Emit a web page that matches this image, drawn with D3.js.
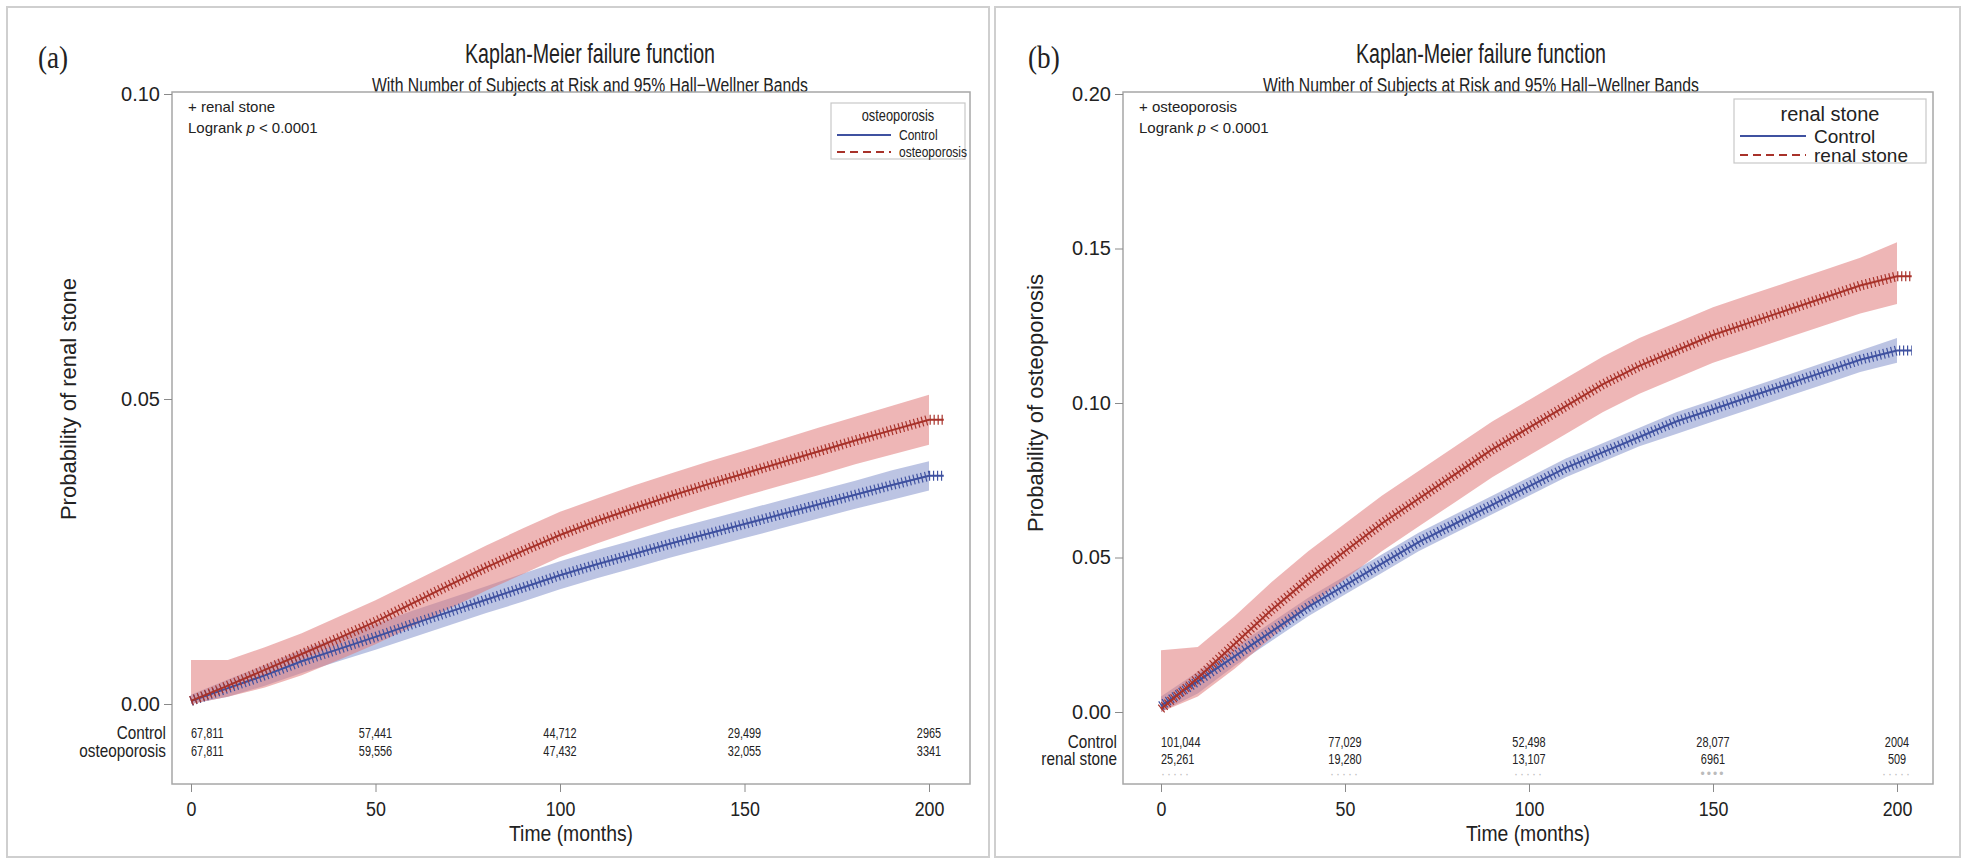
<!DOCTYPE html>
<html>
<head>
<meta charset="utf-8">
<script src="https://cdn.jsdelivr.net/npm/d3@7/dist/d3.min.js"></script>
<style>
body{margin:0;background:#fff;}
text{fill:#222;font-family:"Liberation Sans",Arial,sans-serif;}
</style>
</head>
<body>
<svg id="chart" width="1968" height="863"></svg>
<script>
const months = [0,10,20,30,40,50,60,70,80,90,100,110,120,130,140,150,160,170,180,190,200];
const lastCensor = 204;

// panel (a): probability of renal stone
const aControl = [0.0005,0.0026,0.0047,0.0070,0.0090,0.0110,0.0131,0.0151,0.0171,0.0191,0.0211,0.0229,0.0246,0.0263,0.0279,0.0295,0.0311,0.0327,0.0343,0.0359,0.0374];
const aControlLo = [0.0000,0.0012,0.0030,0.0051,0.0070,0.0089,0.0109,0.0129,0.0149,0.0168,0.0188,0.0206,0.0223,0.0240,0.0256,0.0272,0.0288,0.0304,0.0320,0.0335,0.0350];
const aControlHi = [0.0015,0.0040,0.0064,0.0089,0.0110,0.0131,0.0153,0.0173,0.0193,0.0214,0.0234,0.0252,0.0269,0.0286,0.0302,0.0318,0.0334,0.0350,0.0366,0.0383,0.0398];
const aCase = [0.0005,0.0030,0.0056,0.0082,0.0108,0.0135,0.0165,0.0195,0.0224,0.0251,0.0277,0.0300,0.0321,0.0341,0.0360,0.0378,0.0396,0.0414,0.0432,0.0449,0.0466];
const aCaseLo = [0.0000,0.0012,0.0027,0.0047,0.0072,0.0098,0.0127,0.0156,0.0186,0.0213,0.0241,0.0263,0.0284,0.0304,0.0323,0.0341,0.0358,0.0375,0.0393,0.0409,0.0425];
const aCaseHi = [0.0072,0.0072,0.0093,0.0116,0.0143,0.0170,0.0200,0.0230,0.0260,0.0288,0.0315,0.0337,0.0358,0.0378,0.0397,0.0415,0.0434,0.0453,0.0471,0.0489,0.0507];

// panel (b): probability of osteoporosis
const bControl = [0.002,0.010,0.018,0.026,0.034,0.041,0.048,0.055,0.061,0.067,0.073,0.079,0.084,0.089,0.094,0.098,0.102,0.106,0.110,0.114,0.117];
const bControlLo = [0.000,0.006,0.015,0.023,0.031,0.038,0.045,0.052,0.058,0.064,0.070,0.076,0.081,0.086,0.090,0.094,0.098,0.102,0.106,0.110,0.113];
const bControlHi = [0.005,0.013,0.021,0.029,0.037,0.044,0.051,0.058,0.064,0.070,0.076,0.082,0.087,0.092,0.097,0.101,0.105,0.109,0.113,0.117,0.121];
const bCase = [0.001,0.011,0.022,0.033,0.043,0.052,0.061,0.069,0.077,0.085,0.092,0.099,0.106,0.112,0.117,0.122,0.126,0.130,0.134,0.138,0.141];
const bCaseLo = [0.000,0.005,0.014,0.024,0.034,0.043,0.052,0.060,0.068,0.076,0.083,0.090,0.097,0.103,0.108,0.113,0.117,0.121,0.125,0.129,0.132];
const bCaseHi = [0.020,0.021,0.031,0.042,0.052,0.061,0.070,0.078,0.086,0.094,0.101,0.108,0.115,0.121,0.126,0.131,0.135,0.139,0.143,0.147,0.152];

// number at risk
const riskTimes = [0,50,100,150,200];
const aRiskControl = [67811,57441,44712,29499,2965];
const aRiskCase = [67811,59556,47432,32055,3341];
const bRiskControl = [101044,77029,52498,28077,2004];
const bRiskCase = [25261,19280,13107,6961,509];

const xTicks = [0,50,100,150,200];
const aYTicks = [0,0.05,0.10];
const bYTicks = [0,0.05,0.10,0.15,0.20];

const blue = '#3f51a0', red = '#a8322a';
const blueBand = '#8594cc', redBand = '#e07a7a';

const svg = d3.select('#chart');
const fmtRisk = n => n >= 10000 ? d3.format(',')(n) : String(n);

function series(vals, lo, hi){
	return months.map((m,i)=>({t:m, v:vals[i], lo:lo[i], hi:hi[i]}));
}

// text squeezed horizontally (the original uses condensed lettering)
function squeezed(g, x, y, size, sx, anchor, str){
	return g.append('text')
		.attr('transform',`translate(${x},${y}) scale(${sx},1)`)
		.attr('text-anchor',anchor)
		.style('font-size',size+'px')
		.text(str);
}

function drawPanel(p){
	const g = svg.append('g');

	// outer panel border
	g.append('rect')
		.attr('x',p.box[0]).attr('y',p.box[1])
		.attr('width',p.box[2]).attr('height',p.box[3])
		.style('fill','none').style('stroke','#cfcfcf').style('stroke-width',2);

	g.append('text')
		.attr('transform',`translate(${p.tag[0]},${p.tag[1]}) scale(0.85,1)`)
		.style('font-family','"Liberation Serif","DejaVu Serif",serif')
		.style('font-size','32px')
		.text(p.tagText);

	g.append('text')
		.attr('x',p.cx).attr('y',63)
		.attr('text-anchor','middle')
		.attr('textLength',250).attr('lengthAdjust','spacingAndGlyphs')
		.style('font-size','28px')
		.text('Kaplan-Meier failure function');
	g.append('text')
		.attr('x',p.cx).attr('y',92)
		.attr('text-anchor','middle')
		.attr('textLength',436).attr('lengthAdjust','spacingAndGlyphs')
		.style('font-size','20px')
		.text('With Number of Subjects at Risk and 95% Hall\u2212Wellner Bands');

	const x = d3.scaleLinear().domain([0,200]).range(p.xRange);
	const y = d3.scaleLinear().domain([0,p.yMax]).range(p.yRange);

	// frame
	g.append('rect')
		.attr('x',p.frame[0]).attr('y',p.frame[1])
		.attr('width',p.frame[2]-p.frame[0]).attr('height',p.frame[3]-p.frame[1])
		.style('fill','none').style('stroke','#a7a7a7').style('stroke-width',1.5);

	// y axis
	const yAxis = d3.axisLeft(y).tickValues(p.yTicks).tickFormat(d3.format('.2f')).tickSize(8).tickPadding(4);
	const ya = g.append('g')
		.attr('transform',`translate(${p.frame[0]},0)`)
		.call(yAxis);
	ya.select('.domain').remove();
	ya.selectAll('line').style('stroke','#8a8a8a');
	ya.selectAll('text').style('font-size','20px').style('fill','#222').style('font-family','"Liberation Sans",Arial,sans-serif');

	// x axis below frame
	const xAxis = d3.axisBottom(x).tickValues(xTicks).tickSize(8).tickPadding(9);
	const xa = g.append('g')
		.attr('transform',`translate(0,${p.frame[3]})`)
		.call(xAxis);
	xa.select('.domain').remove();
	xa.selectAll('line').style('stroke','#8a8a8a');
	xa.selectAll('text').style('font-size','21px').style('fill','#222').style('font-family','"Liberation Sans",Arial,sans-serif')
		.attr('transform','scale(0.85,1)');

	squeezed(g,(p.frame[0]+p.frame[2])/2,841,22,0.88,'middle','Time (months)');

	g.append('text')
		.attr('transform',`translate(${p.yLabelX},${(p.yRange[0]+p.yRange[1])/2}) rotate(-90)`)
		.attr('text-anchor','middle')
		.style('font-size','22px')
		.text(p.yLabel);

	// confidence bands
	const band = d3.area()
		.x(d=>x(d.t)).y0(d=>y(d.lo)).y1(d=>y(d.hi));
	const line = d3.line().x(d=>x(d.t)).y(d=>y(d.v));

	p.groups.forEach(s=>{
		g.append('path')
			.datum(s.data)
			.attr('d',band)
			.style('fill',s.band).style('fill-opacity',0.55);
	});
	p.groups.forEach(s=>{
		const pts = s.data.concat([{t:lastCensor, v:s.data[s.data.length-1].v}]);
		g.append('path').datum(pts).attr('d',line)
			.style('fill','none').style('stroke',s.color).style('stroke-width',2);
		// dense censor ticks ("+") drawn as a thick dashed copy of the curve
		g.append('path').datum(pts).attr('d',line)
			.style('fill','none').style('stroke',s.color)
			.style('stroke-width',10).style('stroke-dasharray','1.2,2.8');
	});

	// top-left annotation
	g.append('text')
		.attr('x',p.frame[0]+16).attr('y',p.frame[1]+20)
		.style('font-size','15px')
		.text('+ '+p.censorLabel);
	const lr = g.append('text')
		.attr('x',p.frame[0]+16).attr('y',p.frame[1]+41)
		.style('font-size','15px');
	lr.append('tspan').text('Logrank ');
	lr.append('tspan').style('font-style','italic').text('p');
	lr.append('tspan').text(' < 0.0001');

	// legend
	const L = p.legend;
	const lg = g.append('g').attr('transform',`translate(${L.x},${L.y})`);
	lg.append('rect')
		.attr('width',L.w).attr('height',L.h)
		.style('fill','#fff').style('stroke','#c8c8c8').style('stroke-width',1.2);
	squeezed(lg, L.w/2, L.fs+3, L.fs+1, L.sx, 'middle', p.legendTitle);
	p.groups.forEach((s,i)=>{
		const yy = L.row0 + i*L.rowH;
		lg.append('line')
			.attr('x1',6).attr('x2',L.lineW).attr('y1',yy).attr('y2',yy)
			.style('stroke',s.color).style('stroke-width',1.8)
			.style('stroke-dasharray',s.dash);
		squeezed(lg, L.lineW+8, yy+L.fs*0.36, L.fs, L.sx, 'start', s.name);
	});

	// number at risk table
	p.groups.forEach((s,i)=>{
		const yy = p.riskY[i];
		squeezed(g, p.frame[0]-6, yy+6, 18, 0.85, 'end', s.name);
		riskTimes.forEach((t,j)=>{
			squeezed(g, x(t), yy+5, 14, 0.78, t===0?'start':'middle', fmtRisk(s.risk[j]));
		});
	});
	if(p.extraRow){
		riskTimes.forEach(t=>{
			squeezed(g, x(t), p.extraRow, 12, 1, t===0?'start':'middle', t===150?'\u2022\u2022\u2022\u2022':'\u00b7\u00b7\u00b7\u00b7\u00b7')
				.style('fill','#bbb').style('letter-spacing','2px');
		});
	}
}

drawPanel({
	box:[7,7,982,850], tag:[38,68], tagText:'(a)', cx:590,
	frame:[172,92,970,784], xRange:[191,929], yRange:[704,94], yMax:0.10,
	yTicks:aYTicks, yLabelX:76, yLabel:'Probability of renal stone',
	censorLabel:'renal stone', legendTitle:'osteoporosis',
	legend:{x:831,y:103,w:134,h:56,fs:15,sx:0.8,lineW:60,row0:32,rowH:17},
	riskY:[733,751],
	groups:[
		{name:'Control', color:blue, band:blueBand, dash:null, data:series(aControl,aControlLo,aControlHi), risk:aRiskControl},
		{name:'osteoporosis', color:red, band:redBand, dash:'8,5', data:series(aCase,aCaseLo,aCaseHi), risk:aRiskCase}
	]
});

drawPanel({
	box:[995,7,965,850], tag:[1028,68], tagText:'(b)', cx:1481,
	frame:[1123,92,1933,784], xRange:[1161,1897], yRange:[712,94], yMax:0.20,
	yTicks:bYTicks, yLabelX:1043, yLabel:'Probability of osteoporosis',
	censorLabel:'osteoporosis', legendTitle:'renal stone',
	legend:{x:1734,y:99,w:192,h:64,fs:19,sx:1,lineW:72,row0:37,rowH:19},
	riskY:[742,759], extraRow:778,
	groups:[
		{name:'Control', color:blue, band:blueBand, dash:null, data:series(bControl,bControlLo,bControlHi), risk:bRiskControl},
		{name:'renal stone', color:red, band:redBand, dash:'8,5', data:series(bCase,bCaseLo,bCaseHi), risk:bRiskCase}
	]
});
</script>
</body>
</html>
